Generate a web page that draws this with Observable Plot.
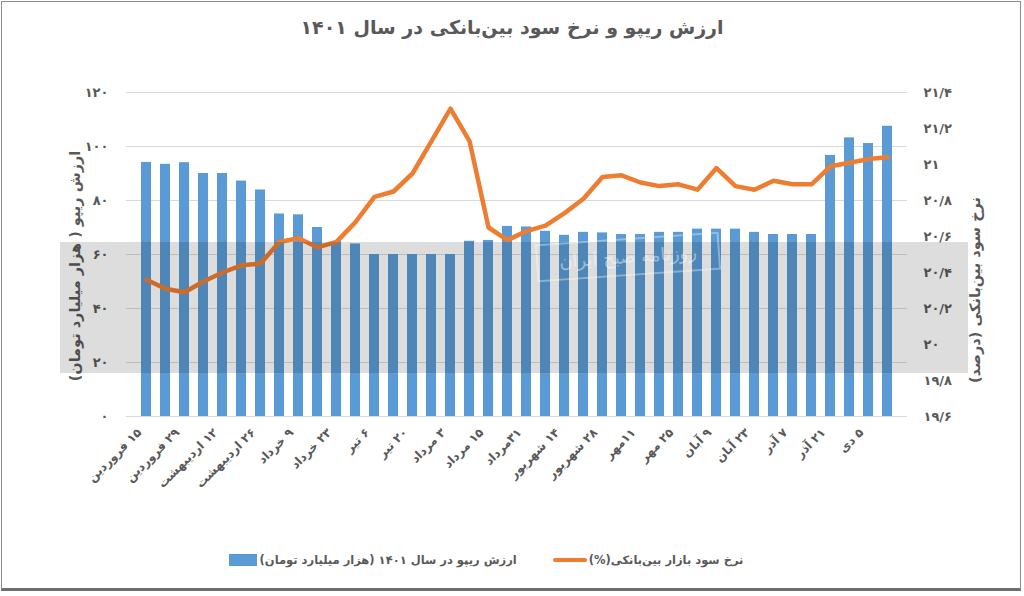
<!DOCTYPE html>
<html>
<head>
<meta charset="utf-8">
<script src="https://cdn.jsdelivr.net/npm/d3@7"></script>
<script src="https://cdn.jsdelivr.net/npm/@observablehq/plot@0.6"></script>
<style>
  body { margin: 0; background: #fff; }
  #frame { position: relative; width: 1024px; height: 596px; overflow: hidden;
    font-family: "DejaVu Sans", sans-serif; color: #595959; background: #fff; }
  #border { position: absolute; left: 1px; top: 1px; width: 1018px; height: 586px;
    border: 1px solid #8c8c8c; border-bottom: 3px solid #6e6e6e; pointer-events: none; }
  #title { position: absolute; left: 0; top: 16px; width: 1024px; text-align: center;
    font-size: 19px; font-weight: bold; color: #595959; direction: rtl; }
  #chart { position: absolute; left: 0; top: 60px; }
  .ytitle { position: absolute; font-size: 14.5px; font-weight: bold; color: #595959;
    white-space: nowrap; direction: rtl; transform: translate(-50%, -50%) rotate(-90deg); }
  #band { position: absolute; left: 60px; top: 242px; width: 908px; height: 131px;
    background: rgba(0,0,0,0.135); pointer-events: none; }
  #wm { position: absolute; left: 536px; top: 238px; width: 180px; height: 34px;
    border: 2px solid rgba(255,255,255,0.35); color: rgba(255,255,255,0.45);
    font-size: 18px; text-align: center; line-height: 34px; direction: rtl;
    transform: rotate(-4deg); pointer-events: none; }
  #legend { position: absolute; top: 553px; left: 0; width: 972px; display: flex;
    justify-content: center; align-items: center;
    font-size: 11.5px; font-weight: bold; color: #595959; }
  .item { display: flex; align-items: center; }
  .txt { direction: rtl; white-space: nowrap; }
</style>
</head>
<body>
<div id="frame">
  <div id="title">ارزش ریپو و نرخ سود بین‌بانکی در سال ۱۴۰۱</div>
  <div id="chart"></div>
  <div class="ytitle" style="left:75px; top:266px;">ارزش ریپو ( هزار میلیارد تومان)</div>
  <div class="ytitle" style="left:975px; top:290px;">نرخ سود بین‌بانکی (درصد)</div>
  <div id="band"></div>
  <div id="wm">روزنامه صبح ایران</div>
  <div id="legend">
    <div class="item"><span style="display:inline-block;width:28px;height:12px;background:#5b9bd5;margin-right:3px;"></span><span class="txt">ارزش ریپو در سال ۱۴۰۱ (هزار میلیارد تومان)</span></div>
    <div class="item" style="margin-left:36px;"><span style="display:inline-block;width:34px;height:4px;border-radius:2px;background:#ed7d31;margin-right:2px;"></span><span class="txt">نرخ سود بازار بین‌بانکی(%)</span></div>
  </div>
  <div id="border"></div>
</div>
<script>
// x tick labels (every other bar is labelled)
const dateLabels = ["۱۵ فروردین", "۲۹ فروردین", "۱۲ اردیبهشت", "۲۶ اردیبهشت", "۹ خرداد", "۲۳ خرداد", "۶ تیر", "۲۰ تیر", "۳ مرداد", "۱۵ مرداد", "۳۱مرداد", "۱۴ شهریور", "۲۸ شهریور", "۱۱مهر", "۲۵ مهر", "۹ آبان", "۲۳ آبان", "۷ آذر", "۲۱ آذر", "۵ دی"];

// repo value (thousand billion toman), one per week
const repoValues = [94.1, 93.4, 94.0, 90.0, 90.0, 87.2, 83.9, 75.0, 74.7, 70.0,
  64.8, 63.9, 60.0, 60.0, 60.0, 60.0, 60.0, 64.9, 65.2, 70.4,
  70.2, 68.6, 67.1, 68.2, 68.0, 67.4, 67.4, 68.2, 68.2, 69.4,
  69.4, 69.4, 68.2, 67.4, 67.4, 67.4, 96.7, 103.2, 101.1, 107.5];

// interbank rate (%)
const rateValues = [20.36, 20.31, 20.29, 20.35, 20.40, 20.44, 20.45, 20.57, 20.59, 20.54,
  20.57, 20.68, 20.82, 20.85, 20.95, 21.13, 21.31, 21.13, 20.65, 20.58,
  20.63, 20.66, 20.73, 20.81, 20.93, 20.94, 20.90, 20.88, 20.89, 20.86,
  20.98, 20.88, 20.86, 20.91, 20.89, 20.89, 20.99, 21.01, 21.03, 21.04];

const leftTicks = [0, 20, 40, 60, 80, 100, 120];
const leftTickLabels = ["۰", "۲۰", "۴۰", "۶۰", "۸۰", "۱۰۰", "۱۲۰"];
const rightTicks = [19.6, 19.8, 20, 20.2, 20.4, 20.6, 20.8, 21, 21.2, 21.4];
const rightTickLabels = ["۱۹/۶", "۱۹/۸", "۲۰", "۲۰/۲", "۲۰/۴", "۲۰/۶", "۲۰/۸", "۲۱", "۲۱/۲", "۲۱/۴"];

const leftDomain = [0, 120];
const rightDomain = [19.6, 21.4];
const rToL = v => (v - rightDomain[0]) / (rightDomain[1] - rightDomain[0]) * (leftDomain[1] - leftDomain[0]) + leftDomain[0];

const idx = d3.range(repoValues.length);
const data = idx.map(i => ({i, repo: repoValues[i], rate: rateValues[i]}));
const rightTickPos = rightTicks.map(rToL);
const labelTicks = d3.range(0, repoValues.length, 2);

const pi = 0.47;
const chart = Plot.plot({
  width: 1024,
  height: 470,
  marginTop: 32,
  marginBottom: 114,
  marginLeft: 126,
  marginRight: 117,
  style: {fontFamily: "DejaVu Sans, sans-serif", fontSize: "12px", color: "#595959", overflow: "visible", background: "transparent"},
  x: {type: "band", domain: idx, paddingInner: pi, paddingOuter: pi / 2},
  y: {domain: leftDomain},
  marks: [
    Plot.gridY(leftTicks, {stroke: "#d9d9d9", strokeOpacity: 1, strokeWidth: 1}),
    Plot.barY(data, {x: "i", y: "repo", fill: "#5b9bd5"}),
    Plot.line(data, {x: "i", y: d => rToL(d.rate), stroke: "#ed7d31", strokeWidth: 4.5, strokeLinejoin: "round", strokeLinecap: "round"}),
    Plot.axisY(leftTicks, {anchor: "left", tickSize: 0, tickPadding: 18, label: null,
      tickFormat: d => leftTickLabels[leftTicks.indexOf(d)], fontWeight: "bold", fontSize: 13}),
    Plot.axisY(rightTickPos, {anchor: "right", tickSize: 0, tickPadding: 16, label: null,
      tickFormat: d => rightTickLabels[rightTickPos.indexOf(d)], fontWeight: "bold", fontSize: 13}),
    Plot.axisX(labelTicks, {anchor: "bottom", tickSize: 0, tickPadding: 14, tickRotate: -45, label: null, dx: -7,
      tickFormat: i => "\u200F" + dateLabels[i / 2], fontWeight: "bold", fontSize: 12})
  ]
});
document.getElementById("chart").appendChild(chart);
</script>
</body>
</html>
